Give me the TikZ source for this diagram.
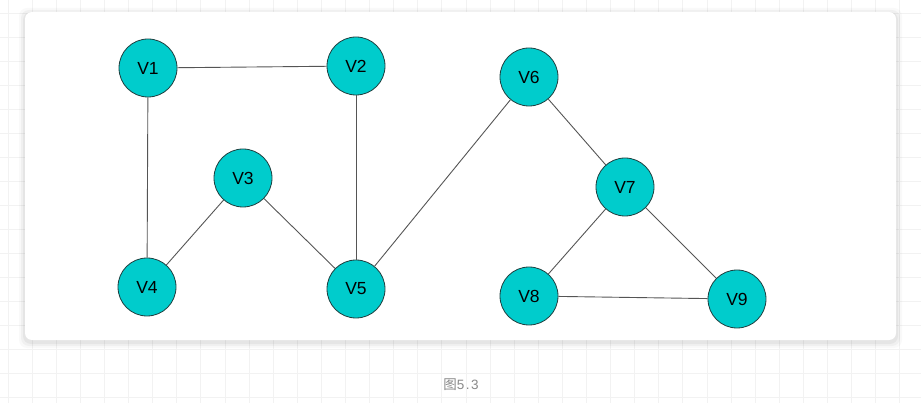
\documentclass[tikz,border=0pt]{standalone}
\usepackage{fontspec}
\setmainfont{Liberation Sans}
\newfontfamily\cjk{Noto Sans CJK SC}
\definecolor{nodefill}{HTML}{00CCCC}
\definecolor{nodeline}{HTML}{1F3F3F}
\definecolor{edgecol}{HTML}{555555}
\definecolor{gridcol}{HTML}{F2F2F2}
\definecolor{capcol}{HTML}{8A8A8A}
\tikzset{
  vertex/.style={circle, draw=nodeline, fill=nodefill, line width=0.8pt, minimum size=58pt, inner sep=0pt, font=\fontsize{17.5}{17.5}\selectfont},
  edge/.style={draw=edgecol, line width=0.9pt},
}
\begin{document}
\begin{tikzpicture}[x=1pt,y=-1pt]
\useasboundingbox (0,0) rectangle (921,403);
\fill[white] (0,0) rectangle (921,403);
% grid
\foreach \i in {0,...,38} {
  \draw[gridcol, line width=0.8pt] ({8+24.1*\i},0) -- ({8+24.1*\i},403);
}
\foreach \j in {0,...,16} {
  \draw[gridcol, line width=0.8pt] (0,{13+24*\j}) -- (921,{13+24*\j});
}
% card shadow
\foreach \k/\o in {6/0.025,4/0.035,2/0.045} {
  \fill[black, opacity=\o, rounded corners=8pt] ({25-\k},{12-\k+2}) rectangle ({896+\k},{340+\k+2});
}
\fill[white, rounded corners=7pt] (25,12) rectangle (896,340);
% nodes
\node[vertex] (v1) at (148,68) {V1};
\node[vertex] (v2) at (356,66) {V2};
\node[vertex] (v3) at (243,178) {V3};
\node[vertex] (v4) at (147,287) {V4};
\node[vertex] (v5) at (356,289) {V5};
\node[vertex] (v6) at (529,77) {V6};
\node[vertex] (v7) at (625,187) {V7};
\node[vertex] (v8) at (529,296) {V8};
\node[vertex] (v9) at (737,299) {V9};
% edges
\draw[edge] (v1) -- (v2);
\draw[edge] (v1) -- (v4);
\draw[edge] (v2) -- (v5);
\draw[edge] (v3) -- (v4);
\draw[edge] (v3) -- (v5);
\draw[edge] (v5) -- (v6);
\draw[edge] (v6) -- (v7);
\draw[edge] (v7) -- (v8);
\draw[edge] (v7) -- (v9);
\draw[edge] (v8) -- (v9);
% caption
\node[text=capcol, font=\fontsize{13.5}{13.5}\selectfont] (cap) at (461,385) {{\cjk 图}5\kern1.5pt.\kern1.5pt3};
\end{tikzpicture}
\end{document}
